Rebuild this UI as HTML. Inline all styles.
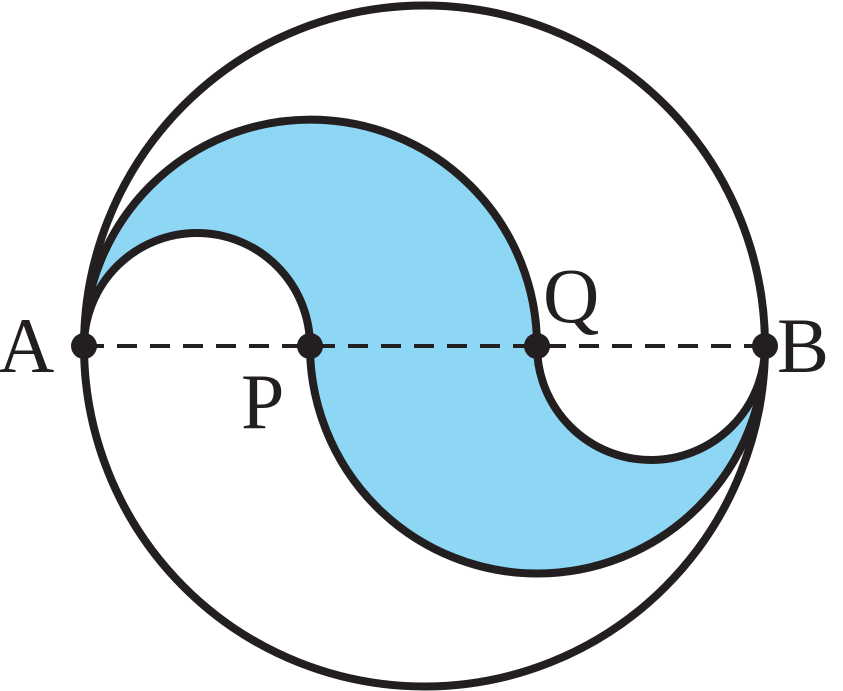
<!DOCTYPE html>
<html><head><style>html,body{margin:0;padding:0;background:#fff}svg{display:block}
.l{font-family:"Liberation Serif",serif;font-size:78px;fill:#231f20}</style></head>
<body>
<svg width="843" height="691" viewBox="0 0 843 691" xmlns="http://www.w3.org/2000/svg">
<path d="M84,346 A226.5,226.5 0 0 1 537,346 A114,114 0 0 0 765,346 A227.5,227.5 0 0 1 310,346 A113,113 0 0 0 84,346 Z" fill="#8dd7f5" stroke="#231f20" stroke-width="8" stroke-linejoin="round"/>
<circle cx="424.5" cy="346" r="340.5" fill="none" stroke="#231f20" stroke-width="8"/>
<line x1="84" y1="346" x2="765" y2="346" stroke="#231f20" stroke-width="4" stroke-dasharray="20,13"/>
<g fill="#231f20">
<circle cx="84" cy="346" r="13"/>
<circle cx="310" cy="346" r="13"/>
<circle cx="537" cy="346" r="13"/>
<circle cx="765" cy="346" r="13"/>
</g>
<text class="l" x="-2" y="372">A</text>
<text class="l" x="241" y="428">P</text>
<text class="l" x="543" y="322">Q</text>
<text class="l" x="777" y="372">B</text>
</svg>
</body></html>
